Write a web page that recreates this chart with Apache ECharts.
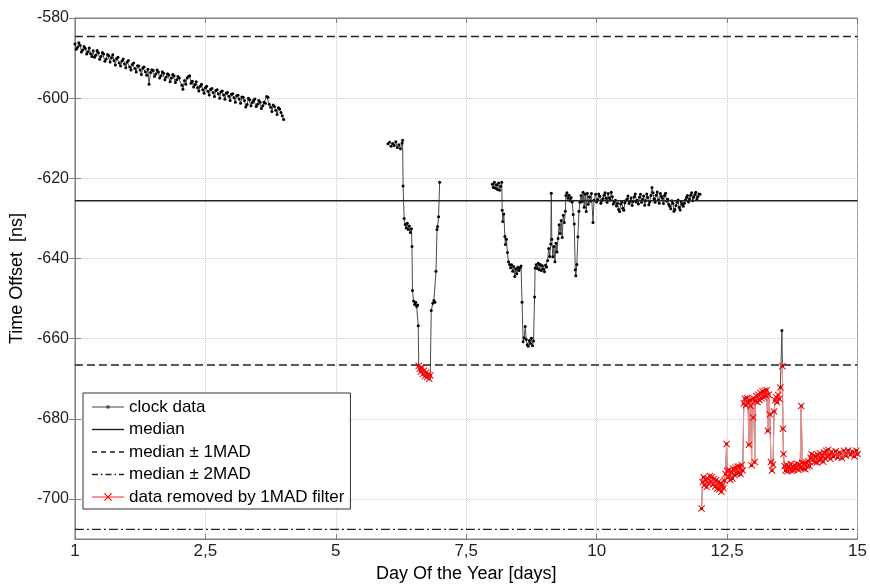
<!DOCTYPE html>
<html>
<head>
<meta charset="utf-8">
<script src="https://cdn.jsdelivr.net/npm/echarts@6/dist/echarts.min.js"></script>
<style>html,body{margin:0;padding:0;background:#fff}#c{width:870px;height:588px}</style>
</head>
<body>
<div id="c"></div>
<script>
// ---------------- data ----------------
const xTickLabels = ['1', '2,5', '5', '7,5', '10', '12,5', '15'];
const yTicks = [-700, -680, -660, -640, -620, -600, -580];

const medianValue = -625.6;
const madValue = 41.0;

// segment A (day 0 - 4)
const daysA = [0.000,0.025,0.050,0.075,0.100,0.125,0.150,0.175,0.200,0.225,0.250,0.275,0.300,0.325,0.350,0.375,0.400,0.425,0.450,0.475,
  0.500,0.525,0.550,0.575,0.600,0.625,0.650,0.675,0.700,0.725,0.750,0.775,0.800,0.825,0.850,0.875,0.900,0.925,0.950,0.975,
  1.000,1.025,1.050,1.075,1.100,1.125,1.150,1.175,1.200,1.225,1.250,1.275,1.300,1.325,1.350,1.375,1.400,1.420,1.450,1.475,
  1.500,1.525,1.550,1.575,1.600,1.625,1.650,1.675,1.700,1.725,1.750,1.775,1.800,1.825,1.850,1.875,1.900,1.925,1.950,1.975,
  2.000,2.050,2.070,2.100,2.125,2.150,2.175,2.200,2.225,2.250,2.275,2.300,2.325,2.350,2.375,2.400,2.425,2.450,2.475,
  2.500,2.525,2.550,2.575,2.600,2.625,2.650,2.675,2.700,2.725,2.750,2.775,2.800,2.825,2.850,2.875,2.900,2.925,2.950,2.975,
  3.000,3.025,3.050,3.075,3.100,3.125,3.150,3.175,3.200,3.225,3.250,3.275,3.300,3.325,3.350,3.375,3.400,3.425,3.450,3.475,
  3.500,3.525,3.550,3.575,3.600,3.625,3.650,3.675,3.700,3.725,3.750,3.775,3.800,3.825,3.850,3.875,3.900,3.925,3.950,3.975,4.000];
const offsA = [-586.5,-587.8,-587.3,-586.2,-586.8,-588.5,-588.0,-587.1,-587.6,-589.0,-588.4,-587.5,-588.9,-589.6,-588.2,-589.8,-589.3,-588.1,-588.7,-590.3,
  -589.6,-588.6,-589.0,-590.8,-590.2,-589.1,-589.4,-591.0,-589.9,-589.2,-590.6,-591.7,-590.1,-589.8,-591.2,-592.0,-590.7,-590.2,-591.5,-592.4,
  -591.0,-590.6,-592.2,-593.0,-591.6,-591.2,-592.6,-593.5,-591.9,-592.0,-593.0,-594.1,-592.5,-592.2,-593.4,-594.3,-592.8,-596.5,-593.6,-592.9,
  -593.1,-594.6,-594.0,-593.0,-593.5,-595.0,-594.4,-593.4,-593.8,-595.4,-594.7,-593.9,-594.2,-595.9,-595.0,-594.1,-594.5,-596.1,-595.4,-594.6,
  -595.0,-596.8,-597.8,-595.6,-596.5,-595.0,-594.6,-594.4,-596.3,-595.8,-597.2,-596.6,-595.9,-597.4,-598.2,-597.0,-596.5,-597.9,-598.8,
  -597.4,-597.0,-598.3,-599.2,-597.8,-597.6,-598.6,-599.6,-598.1,-597.9,-598.9,-600.0,-598.4,-598.2,-599.2,-600.3,-598.7,-598.6,-599.5,-600.6,
  -599.0,-598.9,-599.9,-601.0,-599.4,-599.3,-600.2,-601.3,-599.7,-599.8,-600.6,-602.2,-601.6,-600.0,-600.4,-601.9,-601.1,-600.5,-600.2,-602.1,
  -601.5,-600.6,-601.0,-602.6,-601.9,-601.0,-601.3,-599.6,-599.8,-601.5,-602.3,-603.3,-601.7,-602.1,-603.0,-604.1,-602.4,-602.7,-603.6,-604.4,-605.3];

// segment B (day 6 - 7)
const daysB = [6.00,6.03,6.06,6.09,6.12,6.15,6.18,6.21,6.24,6.27,6.28,6.29,6.31,6.33,6.35,6.37,6.39,6.41,6.43,6.45,6.46,6.47,
  6.49,6.51,6.53,6.55,6.57,6.58,6.59,6.61,6.63,6.65,6.67,6.69,6.71,6.73,6.75,6.77,6.79,6.81,6.83,6.86,6.88,6.90,6.92,6.94,6.95,6.97,6.99];
const offsB = [-611.4,-611.0,-612.0,-611.3,-611.8,-610.9,-612.3,-611.6,-612.6,-611.2,-610.5,-621.9,-630.0,-631.5,-632.4,-631.2,-632.8,-631.9,-633.5,-632.6,-637.0,-648.0,
  -650.6,-651.5,-650.9,-652.0,-651.6,-656.8,-666.8,-667.5,-668.2,-667.3,-668.8,-668.0,-669.3,-668.5,-669.6,-668.9,-670.0,-669.2,-653.0,-651.2,-650.5,-650.9,-643.2,-632.8,-632.0,-629.6,-621.0];

// segment C, first part (day 8 - 10)
const daysC1 = [8.00,8.02,8.04,8.06,8.08,8.10,8.12,8.14,8.16,8.18,8.19,8.20,8.22,8.24,8.25,8.27,8.29,8.31,8.33,8.35,8.37,8.39,8.41,8.43,8.45,8.47,8.49,8.51,8.53,8.55,
  8.57,8.59,8.61,8.63,8.65,8.67,8.69,8.71,8.73,8.75,8.77,8.79,8.81,8.82,8.84,8.86,8.88,8.90,8.92,8.94,8.96,8.98,9.00,9.02,9.04,9.06,9.08,9.10,9.12,9.13,9.14,9.16,9.18,
  9.20,9.22,9.24,9.26,9.28,9.30,9.32,9.34,9.36,9.38,9.40,9.41,9.43,9.45,9.47,9.49,9.51,9.53,9.55,9.57,9.59,9.60,9.62,9.64,9.66,9.68,9.70,9.72,9.74,9.76,9.78,9.80,
  9.82,9.84,9.86,9.88,9.90,9.93,9.95];
const offsC1 = [-621.5,-622.3,-621.0,-622.5,-621.6,-622.8,-621.2,-623.0,-622.0,-621.0,-628.0,-630.8,-628.9,-634.5,-636.5,-635.2,-638.5,-640.8,-641.5,-642.3,-641.6,-643.2,-642.0,-644.5,-642.6,-643.8,-642.2,-643.0,-642.4,-641.9,
  -650.9,-660.8,-659.8,-657.0,-660.2,-661.5,-661.9,-660.5,-661.2,-659.9,-661.8,-660.6,-649.6,-642.4,-641.6,-642.5,-641.2,-642.8,-641.5,-643.0,-641.8,-642.6,-643.3,-641.7,-642.1,-640.5,-637.5,-639.5,-636.4,-623.7,-635.2,-639.6,-637.0,
  -640.8,-636.2,-638.4,-635.0,-631.6,-633.8,-630.5,-634.8,-629.2,-631.0,-628.2,-624.3,-623.6,-625.0,-624.2,-625.6,-624.8,-625.9,-629.0,-631.4,-642.8,-644.3,-641.5,-634.6,-628.2,-626.0,-624.3,-625.8,-623.5,-627.2,-624.0,-628.3,
  -623.7,-626.5,-624.6,-625.7,-623.8,-631.0,-625.5];

// segment C, second part (day 10 - 12)
const daysC2 = [9.98,10.00,10.02,10.04,10.06,10.08,10.10,10.12,10.14,10.16,10.18,10.20,10.22,10.24,10.26,10.28,10.30,10.32,10.34,10.36,10.38,10.40,10.42,10.44,10.46,10.48,10.50,
  10.52,10.54,10.56,10.58,10.60,10.62,10.64,10.66,10.68,10.70,10.72,10.74,10.76,10.78,10.80,10.82,10.84,10.86,10.88,10.90,10.92,10.94,10.96,10.98,
  11.00,11.02,11.04,11.06,11.08,11.10,11.12,11.14,11.16,11.18,11.20,11.22,11.24,11.26,11.28,11.30,11.32,11.34,11.36,11.38,11.40,11.42,11.44,11.46,11.48,11.50,
  11.52,11.54,11.56,11.58,11.60,11.62,11.64,11.66,11.68,11.70,11.72,11.74,11.76,11.78,11.80,11.82,11.84,11.86,11.88,11.90,11.92,11.94,11.96,11.98];
const offsC2 = [-624.0,-625.9,-625.3,-623.9,-624.5,-626.2,-625.6,-625.1,-624.2,-623.6,-625.0,-626.0,-623.8,-624.9,-625.4,-623.5,-624.6,-626.4,-625.8,-625.5,-626.9,-626.2,-627.8,-628.3,-626.4,-625.9,-627.5,
  -628.0,-626.1,-625.6,-625.2,-624.4,-626.3,-625.7,-624.9,-626.8,-625.8,-624.6,-623.9,-625.9,-625.5,-626.4,-624.7,-624.0,-626.0,-625.3,-624.4,-626.7,-625.6,-623.9,-624.8,
  -626.6,-625.9,-624.3,-622.3,-623.6,-625.1,-626.0,-624.2,-623.4,-625.4,-626.2,-623.8,-624.5,-625.0,-626.3,-624.3,-623.7,-625.7,-625.2,-626.5,-627.0,-627.6,-625.6,-626.2,-628.2,-627.8,
  -626.8,-626.0,-625.4,-627.3,-627.9,-625.9,-626.5,-627.0,-626.2,-625.4,-624.8,-624.3,-625.9,-625.1,-624.2,-623.6,-625.6,-624.7,-624.1,-623.5,-625.3,-624.6,-623.9,-624.0];

// segment D (day 12 - 15)
const daysD = [12.01,12.03,12.05,12.07,12.09,12.11,12.13,12.15,12.17,12.19,12.21,12.23,12.25,12.27,12.29,12.31,12.33,12.35,12.37,12.39,12.41,12.43,12.45,12.47,12.49,
  12.50,12.52,12.54,12.56,12.58,12.60,12.62,12.64,12.66,12.68,12.70,12.72,12.74,12.76,12.78,12.80,12.82,12.84,12.86,12.88,12.90,12.92,12.93,12.95,12.97,12.98,
  13.00,13.01,13.03,13.04,13.06,13.08,13.10,13.12,13.14,13.16,13.18,13.20,13.22,13.24,13.26,13.28,13.30,13.32,13.34,13.36,13.38,13.40,13.42,13.44,13.46,13.48,13.50,13.52,
  13.55,13.56,13.57,13.58,13.60,13.62,13.64,13.66,13.68,13.70,13.72,13.74,13.76,13.78,13.80,13.82,13.84,13.86,13.88,13.90,13.92,13.94,13.96,13.98,
  14.00,14.02,14.04,14.06,14.08,14.10,14.12,14.14,14.16,14.18,14.20,14.22,14.24,14.26,14.28,14.30,14.32,14.34,14.36,14.38,14.40,14.42,14.44,14.46,14.48,
  14.50,14.54,14.58,14.62,14.66,14.70,14.74,14.78,14.82,14.86,14.90,14.94,14.98,15.00];
const offsD = [-702.4,-695.8,-694.6,-696.5,-695.2,-697.0,-694.9,-696.2,-694.3,-695.7,-694.5,-696.4,-695.0,-696.9,-695.3,-697.4,-695.8,-697.6,-696.1,-698.2,-696.5,-697.3,-695.4,-693.8,-686.3,
  -693.0,-694.6,-692.8,-695.2,-693.4,-694.9,-692.5,-694.0,-692.2,-693.7,-691.9,-693.5,-692.0,-693.8,-691.6,-692.9,-676.2,-675.0,-676.6,-674.8,-675.9,-686.5,-675.4,-676.8,-691.6,-675.2,
  -679.7,-674.9,-690.8,-675.6,-674.3,-675.8,-674.0,-675.3,-673.6,-674.9,-673.2,-674.6,-673.0,-674.2,-672.9,-683.0,-674.0,-678.9,-690.8,-692.9,-691.4,-678.2,-675.4,-674.6,-675.9,-674.1,-675.0,-672.2,
  -658.0,-666.9,-682.5,-688.8,-691.8,-692.9,-691.5,-693.1,-691.9,-692.6,-691.3,-693.0,-692.0,-692.8,-691.6,-692.4,-691.2,-692.7,-691.5,-692.3,-676.8,-691.0,-692.4,-691.1,
  -692.6,-690.9,-692.0,-690.6,-691.8,-689.7,-688.8,-690.3,-689.2,-690.8,-689.5,-690.9,-689.0,-690.4,-688.6,-690.1,-689.3,-690.7,-688.4,-689.9,-688.0,-689.5,-687.7,-689.2,-690.0,
  -688.3,-689.4,-688.1,-689.6,-688.4,-689.8,-688.0,-689.2,-687.9,-689.0,-688.2,-689.4,-688.0,-688.8];

// ---------------- build ----------------
const zip = (d, v) => d.map((x, i) => [x, v[i]]);
const segments = [
  zip(daysA, offsA),
  zip(daysB, offsB),
  zip(daysC1, offsC1).concat(zip(daysC2, offsC2)),
  zip(daysD, offsD)
];
const clockData = [];
segments.forEach((s, i) => {
  if (i > 0) clockData.push([s[0][0] - 0.005, null]);
  s.forEach(p => clockData.push(p));
});
const lower1 = medianValue - madValue, upper1 = medianValue + madValue;
const lower2 = medianValue - 2 * madValue, upper2 = medianValue + 2 * madValue;
const removedData = clockData.map(p => [p[0], (p[1] !== null && p[1] < lower1) ? p[1] : null]);

const FONT = 'Liberation Sans, Arial, Helvetica, sans-serif';
const X_SYM = 'path://M0,1L1,0L5,4L9,0L10,1L6,5L10,9L9,10L5,6L1,10L0,9L4,5Z';

const chart = echarts.init(document.getElementById('c'), null, {renderer: 'canvas'});
chart.setOption({
  animation: false,
  backgroundColor: '#ffffff',
  textStyle: {fontFamily: FONT},
  grid: {left: 73, right: 10, top: 18, bottom: 46, show: true, borderColor: '#808080', borderWidth: 1, backgroundColor: 'transparent'},
  legend: {
    orient: 'vertical', left: 83, top: 393,
    padding: [5, 6, 3, 8], itemGap: 4.5, itemWidth: 32, itemHeight: 10,
    backgroundColor: '#ffffff', borderColor: '#333333', borderWidth: 1, borderRadius: 0,
    textStyle: {fontFamily: FONT, fontSize: 17, color: '#000', lineHeight: 18},
    data: [
      {name: 'clock data', icon: 'path://M0,1H32V2H0ZM14.5,0H17.5V3H14.5Z', itemStyle: {color: '#444', borderWidth: 0}},
      {name: 'median', icon: 'path://M0,0H32V1.4H0Z', itemStyle: {color: '#222', borderWidth: 0}},
      {name: 'median \u00b1 1MAD', icon: 'path://M0,0H5V1.3H0ZM9,0H14V1.3H9ZM18,0H23V1.3H18ZM27,0H32V1.3H27Z', itemStyle: {color: '#222', borderWidth: 0}},
      {name: 'median \u00b1 2MAD', icon: 'path://M0,0H6V1.3H0ZM9,0H10.5V1.3H9ZM13.5,0H19.5V1.3H13.5ZM22.5,0H24V1.3H22.5ZM27,0H32V1.3H27Z', itemStyle: {color: '#222', borderWidth: 0}},
      {name: 'data removed by 1MAD filter'}
    ]
  },
  xAxis: [{
    type: 'value', min: 0, max: 15, interval: 2.5, position: 'bottom',
    name: 'Day Of the Year [days]', nameLocation: 'middle', nameGap: 26,
    nameTextStyle: {fontFamily: FONT, fontSize: 18, color: '#000'},
    axisLine: {show: true, onZero: false, lineStyle: {color: '#808080', width: 1}},
    axisTick: {show: true, inside: true, length: 5, lineStyle: {color: '#808080'}},
    axisLabel: {fontFamily: FONT, fontSize: 17, color: '#222', margin: 4,
      formatter: v => xTickLabels[Math.round(v / 2.5)]},
    splitLine: {show: true, lineStyle: {color: '#c8c8c8', type: 'dotted', width: 1}}
  }, {
    type: 'value', min: 0, max: 15, interval: 2.5, position: 'top',
    axisLine: {show: true, lineStyle: {color: '#808080'}},
    axisTick: {show: true, inside: true, length: 5, lineStyle: {color: '#808080'}},
    axisLabel: {show: false}, splitLine: {show: false}
  }],
  yAxis: [{
    type: 'value', min: -710, max: -580, position: 'left',
    name: 'Time Offset  [ns]', nameLocation: 'middle', nameGap: 37, nameRotate: 90,
    nameTextStyle: {fontFamily: FONT, fontSize: 18, color: '#000'},
    axisLine: {show: true, onZero: false, lineStyle: {color: '#808080', width: 1}},
    axisTick: {show: true, inside: true, length: 6, customValues: yTicks, lineStyle: {color: '#808080'}},
    axisLabel: {fontFamily: FONT, fontSize: 16, color: '#222', margin: 6, customValues: yTicks,
      formatter: v => String(Math.round(v))},
    splitLine: {show: true, lineStyle: {color: '#c8c8c8', type: 'dotted', width: 1}}
  }, {
    type: 'value', min: -710, max: -580, position: 'right',
    axisLine: {show: true, lineStyle: {color: '#808080'}},
    axisTick: {show: true, inside: true, length: 6, customValues: yTicks, lineStyle: {color: '#808080'}},
    axisLabel: {show: false}, splitLine: {show: false}
  }],
  series: [
    {
      name: 'clock data', type: 'line', data: clockData, connectNulls: false,
      symbol: 'circle', symbolSize: 3, showSymbol: true,
      lineStyle: {color: '#4a4a4a', width: 1},
      itemStyle: {color: '#000'}, z: 2
    },
    {
      name: 'median', type: 'line', symbol: 'none',
      data: [[0, medianValue], [15, medianValue]],
      lineStyle: {color: '#222', width: 1.5}, itemStyle: {color: '#222'}, z: 3
    },
    {
      name: 'median \u00b1 1MAD', type: 'line', symbol: 'none', connectNulls: false,
      data: [[0, upper1], [15, upper1], [15, null], [0, lower1], [15, lower1]],
      lineStyle: {color: '#222', width: 1.4, type: [8, 4]}, itemStyle: {color: '#222'}, z: 3
    },
    {
      name: 'median \u00b1 2MAD', type: 'line', symbol: 'none', connectNulls: false,
      data: [[0, upper2], [15, upper2], [15, null], [0, lower2], [15, lower2]],
      lineStyle: {color: '#222', width: 1.4, type: [9, 3, 2, 3]}, itemStyle: {color: '#222'}, z: 3
    },
    {
      name: 'data removed by 1MAD filter', type: 'line', data: removedData, connectNulls: false,
      symbol: X_SYM, symbolSize: 7, showSymbol: true,
      lineStyle: {color: '#ff9090', width: 1},
      itemStyle: {color: '#ff0000', borderWidth: 0}, z: 4
    }
  ]
});
</script>
</body>
</html>
